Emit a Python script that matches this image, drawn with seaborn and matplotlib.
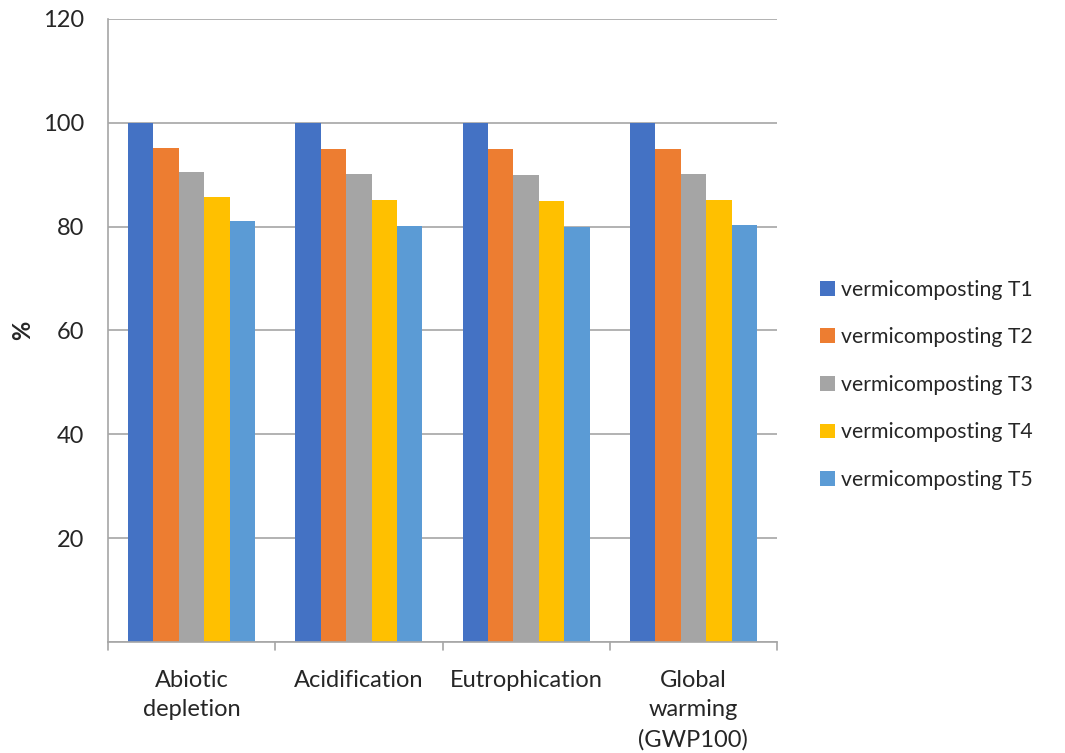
import matplotlib
matplotlib.use("Agg")
import matplotlib.pyplot as plt
import seaborn as sns
import pandas as pd

# categories and series
categories = ["Abiotic\ndepletion", "Acidification", "Eutrophication", "Global\nwarming\n(GWP100)"]
series = ["vermicomposting T1", "vermicomposting T2", "vermicomposting T3",
          "vermicomposting T4", "vermicomposting T5"]
t1 = [100, 100, 100, 100]
t2 = [95.2, 95.0, 94.9, 95.0]
t3 = [90.5, 90.1, 89.9, 90.2]
t4 = [85.8, 85.1, 84.9, 85.1]
t5 = [81.1, 80.1, 80.0, 80.3]
colors = ["#4472C4", "#ED7D31", "#A5A5A5", "#FFC000", "#5B9BD5"]

rows = []
for name, vals in zip(series, [t1, t2, t3, t4, t5]):
    for cat, v in zip(categories, vals):
        rows.append({"category": cat, "series": name, "value": v})
df = pd.DataFrame(rows)

sns.set_style("white")
plt.rcParams['font.family'] = ['Lato', 'DejaVu Sans']

fig = plt.figure(figsize=(10.65, 7.53), dpi=100)
ax = fig.add_axes([0.1014, 0.1474, 0.6282, 0.8274])

sns.barplot(data=df, x="category", y="value", hue="series", palette=colors,
            saturation=1, width=0.76, linewidth=0, ax=ax, legend=True)

ax.set_ylim(0, 120)
ax.set_xlim(-0.5, len(categories) - 0.5)
ax.set_yticks([0, 20, 40, 60, 80, 100, 120])
ax.set_yticklabels(["", "20", "40", "60", "80", "100", "120"], fontsize=17)
ax.yaxis.grid(True, color="#A6A6A6", linewidth=1.2)
ax.set_axisbelow(True)

# category boundary ticks on x axis
ax.set_xticks([i for i in range(len(categories))])
ax.set_xticklabels(categories, fontsize=17, linespacing=1.5)
ax.tick_params(axis="x", length=0, pad=20)
for b in [-0.5, 0.5, 1.5, 2.5, 3.5]:
    ax.plot([b, b], [0, -1.6], color="#A6A6A6", lw=1.2, clip_on=False)
ax.tick_params(axis="y", length=7, color="#A6A6A6", width=1.2, pad=10, direction="out")

for s in ["top", "right"]:
    ax.spines[s].set_visible(False)
for s in ["left", "bottom"]:
    ax.spines[s].set_color("#A6A6A6")
    ax.spines[s].set_linewidth(1.2)

ax.set_xlabel("")
ax.set_ylabel("%", fontsize=17, fontweight="bold")
ax.yaxis.set_label_coords(-0.11, 0.5)

handles, labels = ax.get_legend_handles_labels()
ax.legend(handles, labels, loc="center left", bbox_to_anchor=(0.762, 0.489),
          bbox_transform=fig.transFigure, frameon=False, fontsize=15.3,
          handlelength=0.7, handleheight=0.7, handletextpad=0.3,
          labelspacing=1.3, borderaxespad=0)

fig.savefig("out.png", dpi=100)
